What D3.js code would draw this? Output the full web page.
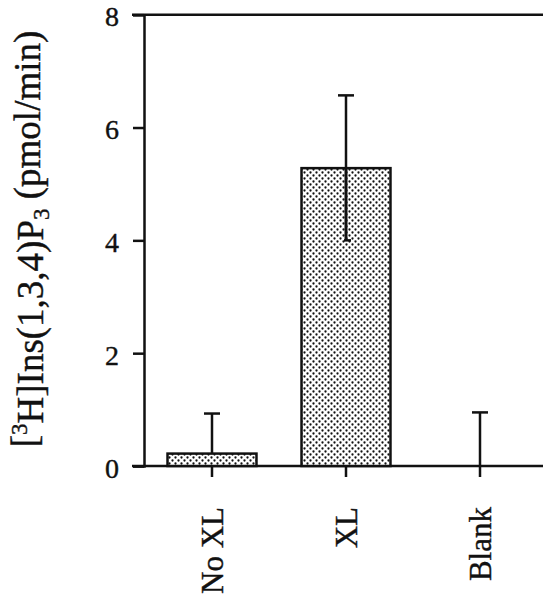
<!DOCTYPE html>
<html>
<head>
<meta charset="utf-8">
<script src="https://cdn.jsdelivr.net/npm/d3@7"></script>
<style>
  body { margin: 0; background: #fff; }
  svg text { font-family: "Liberation Serif", "Times New Roman", serif; fill: #111; stroke: #111; stroke-width: 0.4px; }
</style>
</head>
<body>
<div id="chart"></div>
<script>
var categories = ["No XL", "XL", "Blank"];
var means = [0.22, 5.28, 0];
var errUp = [0.93, 6.57, 0.95];
var errLow = [null, 4.0, null];
var yTicks = [0, 2, 4, 6, 8];

var width = 543, height = 602;

var svg = d3.select("#chart").append("svg")
    .attr("width", width)
    .attr("height", height);

// dotted fill like the print
var defs = svg.append("defs");
var pat = defs.append("pattern")
    .attr("id", "dots")
    .attr("patternUnits", "userSpaceOnUse")
    .attr("width", 6)
    .attr("height", 6);
pat.append("rect").attr("width", 6).attr("height", 6).attr("fill", "#fff");
pat.append("circle").attr("cx", 1.5).attr("cy", 1.5).attr("r", 1.15).attr("fill", "#111");
pat.append("circle").attr("cx", 4.5).attr("cy", 4.5).attr("r", 1.15).attr("fill", "#111");

var y = d3.scaleLinear()
    .domain([0, 8])
    .range([466, 14.7]);

var x = d3.scaleBand()
    .domain(categories)
    .range([145, 547])
    .paddingInner(0.336)
    .paddingOuter(0.168);

// frame lines: top at 8, bottom at 0
svg.append("line")
    .attr("x1", 132).attr("x2", width)
    .attr("y1", y(8)).attr("y2", y(8))
    .attr("stroke", "#111").attr("stroke-width", 2.5);
svg.append("line")
    .attr("x1", 132).attr("x2", width)
    .attr("y1", y(0)).attr("y2", y(0))
    .attr("stroke", "#111").attr("stroke-width", 2.5);

var yAxis = svg.append("g")
    .attr("transform", "translate(144,0)")
    .call(d3.axisLeft(y).tickValues(yTicks).tickSize(11).tickPadding(14).tickFormat(d3.format("d")));
yAxis.select(".domain").attr("stroke", "#111").attr("stroke-width", 2.5);
yAxis.selectAll(".tick line").attr("stroke", "#111").attr("stroke-width", 2.5);
yAxis.selectAll(".tick text")
    .attr("dy", "0.4em")
    .style("font-size", "28px")
    .attr("fill", "#111");

var xAxis = svg.append("g")
    .attr("transform", "translate(0," + y(0) + ")")
    .call(d3.axisBottom(x).tickSize(11).tickFormat(""));
xAxis.select(".domain").remove();
xAxis.selectAll(".tick line").attr("stroke", "#111").attr("stroke-width", 2.5);

// bars
svg.selectAll(".bar")
    .data(categories)
  .enter().append("rect")
    .attr("class", "bar")
    .attr("x", function(d) { return x(d); })
    .attr("width", x.bandwidth())
    .attr("y", function(d, i) { return y(means[i]); })
    .attr("height", function(d, i) { return y(0) - y(means[i]); })
    .attr("fill", "url(#dots)")
    .attr("stroke", function(d, i) { return means[i] > 0 ? "#111" : "none"; })
    .attr("stroke-width", 2.5);

// error bars
var cap = 8;
categories.forEach(function(c, i) {
  var cx = x(c) + x.bandwidth() / 2;
  svg.append("line")
      .attr("x1", cx).attr("x2", cx)
      .attr("y1", y(means[i])).attr("y2", y(errUp[i]))
      .attr("stroke", "#111").attr("stroke-width", 2.5);
  svg.append("line")
      .attr("x1", cx - cap).attr("x2", cx + cap)
      .attr("y1", y(errUp[i])).attr("y2", y(errUp[i]))
      .attr("stroke", "#111").attr("stroke-width", 2.5);
  if (errLow[i] != null) {
    svg.append("line")
        .attr("x1", cx).attr("x2", cx)
        .attr("y1", y(means[i])).attr("y2", y(errLow[i]))
        .attr("stroke", "#111").attr("stroke-width", 3);
    svg.append("line")
        .attr("x1", cx - 2).attr("x2", cx + 5)
        .attr("y1", y(errLow[i])).attr("y2", y(errLow[i]))
        .attr("stroke", "#111").attr("stroke-width", 2.5);
  }
});

// category labels, rotated
svg.selectAll(".cat")
    .data(categories)
  .enter().append("text")
    .attr("class", "cat")
    .attr("transform", function(d) {
      return "translate(" + (x(d) + x.bandwidth() / 2) + ",507) rotate(-90)";
    })
    .attr("dy", "0.35em")
    .attr("text-anchor", "end")
    .style("font-size", "31px")
    .text(function(d) { return d; });

// y label
var yl = svg.append("text")
    .attr("transform", "translate(37,239) rotate(-90)")
    .attr("text-anchor", "middle")
    .style("font-size", "37px");
yl.append("tspan").text("[");
yl.append("tspan").attr("dy", "-0.45em").style("font-size", "23px").text("3");
yl.append("tspan").attr("dy", "0.45em").text("H]Ins(1,3,4)P");
yl.append("tspan").attr("dy", "0.25em").style("font-size", "23px").text("3");
yl.append("tspan").attr("dy", "-0.25em").text(" (pmol/min)");
</script>
</body>
</html>
